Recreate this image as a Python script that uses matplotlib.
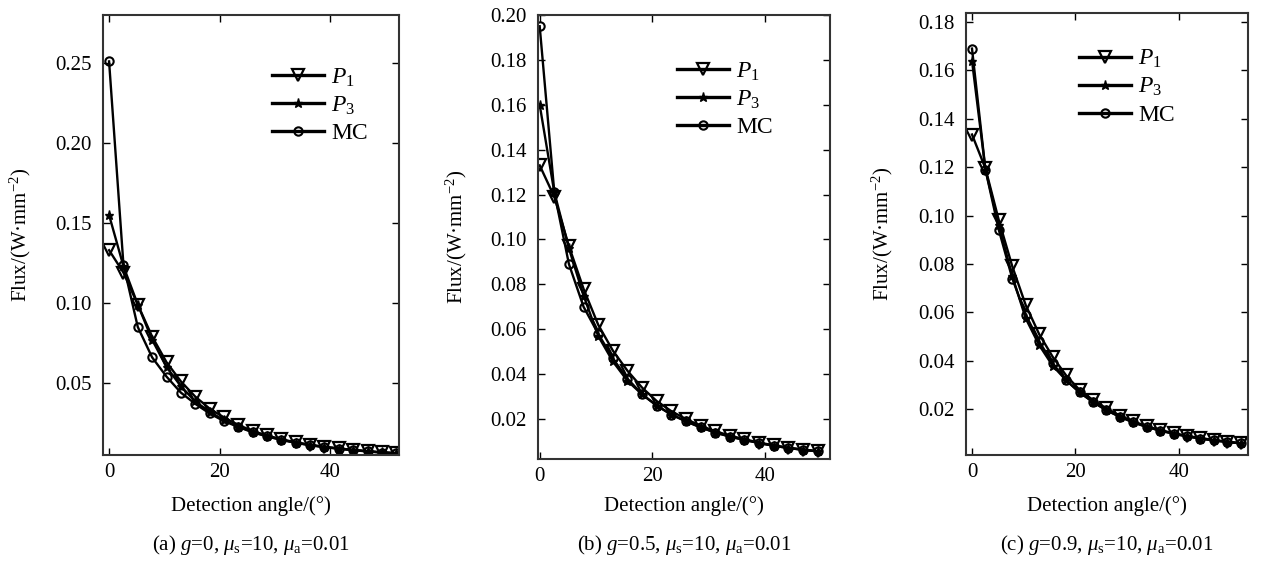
import matplotlib.pyplot as plt

plt.rcParams['font.family'] = ['Liberation Serif', 'DejaVu Serif']
plt.rcParams['mathtext.fontset'] = 'custom'
plt.rcParams['mathtext.rm'] = 'Liberation Serif'
plt.rcParams['mathtext.it'] = 'Liberation Serif:italic'

# Detection angles (degrees)
angle_21 = [0, 2.6, 5.2, 7.8, 10.4, 13.0, 15.6, 18.2, 20.8, 23.4, 26.0,
            28.6, 31.2, 33.8, 36.4, 39.0, 41.6, 44.2, 46.8, 49.4, 52.0]
angle_20 = angle_21[:20]

# (a) g=0
p1_a = [0.133, 0.119, 0.099, 0.079, 0.063, 0.051, 0.0415, 0.034, 0.0285, 0.0238, 0.0200,
        0.0172, 0.0148, 0.0129, 0.0114, 0.0101, 0.0091, 0.0082, 0.0074, 0.0067, 0.0062]
p3_a = [0.155, 0.123, 0.099, 0.077, 0.060, 0.048, 0.0385, 0.032, 0.0268, 0.0228, 0.0194,
        0.0168, 0.0146, 0.0127, 0.0112, 0.0100, 0.0090, 0.0081, 0.0073, 0.0066, 0.0061]
mc_a = [0.251, 0.124, 0.085, 0.066, 0.054, 0.044, 0.037, 0.031, 0.0262, 0.0225, 0.0192,
        0.0166, 0.0144, 0.0126, 0.0111, 0.0099, 0.0089, 0.0080, 0.0072, 0.0065, 0.0060]

# (b) g=0.5
p1_b = [0.133, 0.119, 0.097, 0.078, 0.062, 0.0505, 0.0415, 0.034, 0.028, 0.0235,
        0.0200, 0.0170, 0.0146, 0.0126, 0.0110, 0.0095, 0.0083, 0.0072, 0.0064, 0.0057]
p3_b = [0.160, 0.121, 0.096, 0.075, 0.057, 0.0457, 0.037, 0.031, 0.026, 0.022,
        0.0190, 0.0163, 0.0140, 0.0122, 0.0107, 0.0093, 0.0081, 0.0071, 0.0063, 0.0056]
mc_b = [0.195, 0.121, 0.089, 0.070, 0.058, 0.047, 0.038, 0.031, 0.026, 0.022,
        0.0190, 0.0163, 0.0140, 0.0122, 0.0107, 0.0093, 0.0081, 0.0071, 0.0063, 0.0056]

# (c) g=0.9
p1_c = [0.1335, 0.1195, 0.098, 0.079, 0.063, 0.051, 0.0417, 0.034, 0.028, 0.0238, 0.0204,
        0.0174, 0.0150, 0.0130, 0.0114, 0.0101, 0.0090, 0.0081, 0.0073, 0.0066, 0.0060]
p3_c = [0.164, 0.119, 0.096, 0.075, 0.0575, 0.0465, 0.038, 0.032, 0.027, 0.023, 0.0196,
        0.0169, 0.0146, 0.0127, 0.0112, 0.0099, 0.0088, 0.0079, 0.0071, 0.0065, 0.0059]
mc_c = [0.169, 0.119, 0.094, 0.074, 0.059, 0.048, 0.039, 0.032, 0.027, 0.023, 0.0196,
        0.0169, 0.0146, 0.0127, 0.0112, 0.0099, 0.0088, 0.0079, 0.0071, 0.0065, 0.0059]

captions = [r'(a) $g$=0, $\mu_{\rm s}$=10, $\mu_{\rm a}$=0.01',
            r'(b) $g$=0.5, $\mu_{\rm s}$=10, $\mu_{\rm a}$=0.01',
            r'(c) $g$=0.9, $\mu_{\rm s}$=10, $\mu_{\rm a}$=0.01']

W, H = 1270, 561
fig = plt.figure(figsize=(W / 100, H / 100), dpi=100)

# panel boxes in pixels: left, top, right, bottom
boxes = [(103, 15, 399, 455), (538, 15, 830, 459), (966, 13, 1248, 455)]
xlims = [(-1.1, 52.5), (-0.3, 51.6), (-1.16, 53.4)]
ylims = [(0.005, 0.28), (0.0022, 0.20), (0.0011, 0.1837)]
yticks = [[0.05, 0.10, 0.15, 0.20, 0.25],
          [0.02, 0.04, 0.06, 0.08, 0.10, 0.12, 0.14, 0.16, 0.18, 0.20],
          [0.02, 0.04, 0.06, 0.08, 0.10, 0.12, 0.14, 0.16, 0.18]]
legend_pos = [(0.571, 0.883), (0.477, 0.898), (0.402, 0.921)]
ylabel_x = [-0.235, -0.238, -0.251]
series = [(angle_21, p1_a, p3_a, mc_a),
          (angle_20, p1_b, p3_b, mc_b),
          (angle_21, p1_c, p3_c, mc_c)]

fs = 15
for i in range(3):
    l, t, r, b = boxes[i]
    ax = fig.add_axes([l / W, 1 - b / H, (r - l) / W, (b - t) / H])
    x, p1, p3, mc = series[i]
    ax.plot(x, mc, color='k', lw=1.7, marker='o', ms=6, mfc='none', mec='k', mew=1.5, label='MC')
    ax.plot(x, p1, color='k', lw=1.7, marker='v', ms=8, mfc='none', mec='k', mew=1.6, label=r'$P_1$')
    ax.plot(x, p3, color='k', lw=1.7, marker='*', ms=6.5, mfc='k', mec='k', label=r'$P_3$')

    ax.set_xlim(*xlims[i])
    ax.set_ylim(*ylims[i])
    ax.set_xticks([0, 20, 40])
    ax.set_yticks(yticks[i])
    ax.set_yticklabels(['%.2f' % v for v in yticks[i]])
    ax.tick_params(direction='in', top=True, right=True, length=5, width=1,
                   labelsize=fs, colors='k')
    ax.tick_params(axis='x', pad=6)
    ax.tick_params(axis='y', pad=8)
    for s in ax.spines.values():
        s.set_linewidth(1.5)
        s.set_color('#333333')

    ax.set_xlabel('Detection angle/(°)', fontsize=fs)
    ax.xaxis.set_label_coords(0.5, -(496 - b) / (b - t))
    ax.set_ylabel('Flux/(W·mm$^{-2}$)', fontsize=fs)
    ax.yaxis.set_label_coords(ylabel_x[i], 0.5)

    handles, labels = ax.get_legend_handles_labels()
    order = [1, 2, 0]
    leg = ax.legend([handles[k] for k in order], [labels[k] for k in order],
                    loc='upper left', bbox_to_anchor=legend_pos[i], frameon=False,
                    fontsize=17, borderpad=0, borderaxespad=0, handlelength=2.2,
                    handletextpad=0.3, labelspacing=0.25, numpoints=1)
    for h in leg.legend_handles:
        h.set_linewidth(2.4)

    fig.text((l + r) / 2 / W, 1 - 545 / H, captions[i], ha='center', va='center', fontsize=fs)

fig.savefig('out.png', dpi=100)
